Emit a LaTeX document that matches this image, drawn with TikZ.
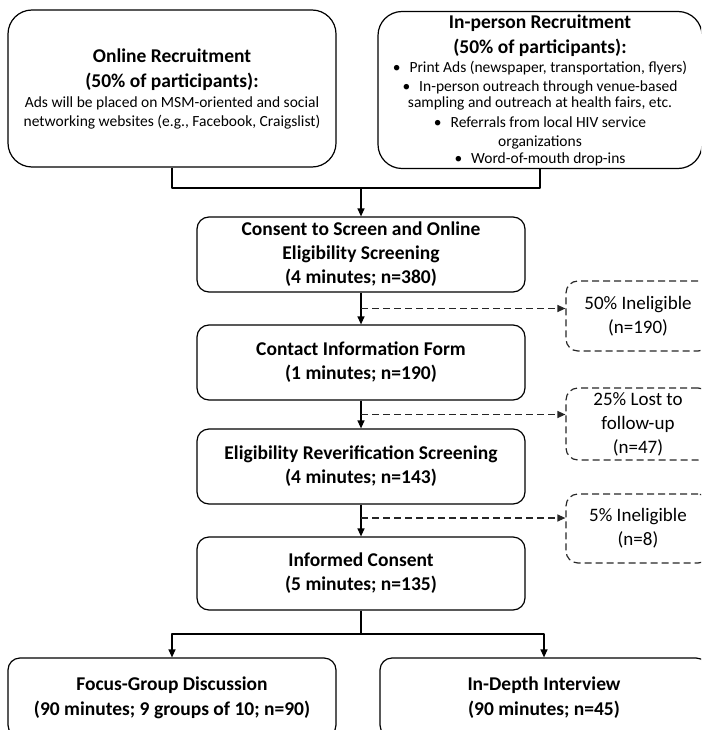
\documentclass[tikz,border=0pt]{standalone}
\usepackage{fontspec}
\setmainfont{Carlito}
\usetikzlibrary{arrows.meta}

\tikzset{
  recbox/.style={draw, line width=1.2pt, rounded corners=24pt, minimum width=328pt, minimum height=157pt, inner ysep=0pt, align=center, font=\fontsize{15.5}{19}\selectfont},
  stepbox/.style={draw, line width=1.2pt, rounded corners=12pt, minimum width=328pt, minimum height=75pt, align=center, font=\fontsize{19.5}{24}\selectfont\bfseries},
  dropbox/.style={draw=black!85, line width=1.2pt, dash pattern=on 7pt off 4pt, rounded corners=12pt, minimum width=144pt, minimum height=70pt, inner ysep=0pt, align=center, font=\fontsize{19}{24}\selectfont},
  flow/.style={->, line width=1.2pt},
  dropflow/.style={->, line width=1.2pt, draw=black!85, dash pattern=on 7pt off 4pt},
}
\newcommand{\ttl}[1]{{\fontsize{19.5}{24}\selectfont\bfseries #1}}

\begin{document}
\begin{tikzpicture}[x=1pt, y=-1pt, line cap=butt, line join=round, >={Triangle[length=8pt, width=7pt]}]
\useasboundingbox (0,0) rectangle (701,730);
\clip (0,0) rectangle (701,730);

% recruitment
\node[recbox] (online) at (172,88.5) {\ttl{Online Recruitment}\\[6pt]
  \ttl{(50\% of participants):}\\[1pt]
  Ads will be placed on MSM-oriented and social\\
  networking websites (e.g., Facebook, Craigslist)};

\node[recbox, minimum width=324pt] (inperson) at (540,90) {\ttl{In-person Recruitment}\\[6pt]
  \ttl{(50\% of participants):}\\[0pt]
  •\hspace{9pt}Print Ads (newspaper, transportation, flyers)\\
  •\hspace{9pt}In-person outreach through venue-based\\[-3pt]
  sampling and outreach at health fairs, etc.\\[1pt]
  •\hspace{9pt}Referrals from local HIV service\\[0pt]
  organizations\\[-2pt]
  •\hspace{9pt}Word-of-mouth drop-ins};

\coordinate (join) at (361,188);
\draw[line width=1.2pt] (online.south) |- (join);
\draw[line width=1.2pt] (inperson.south) |- (join);

%---------------------------------------------------------------------------------------------------
% main column
\node[stepbox] (screen) at (361,254.5) {Consent to Screen and Online\\ Eligibility Screening\\ (4 minutes; n=380)};
\node[stepbox] (contact) at (361,362.5) {Contact Information Form\\ (1 minutes; n=190)};
\node[stepbox] (reverify) at (361,466.5) {Eligibility Reverification Screening\\ (4 minutes; n=143)};
\node[stepbox, minimum height=73pt] (informed) at (361,573.5) {Informed Consent\\ (5 minutes; n=135)};

\draw[flow] (join) -- (screen.north);
\draw[flow] (screen) -- (contact);
\draw[flow] (contact) -- (reverify);
\draw[flow] (reverify) -- (informed);

%---------------------------------------------------------------------------------------------------
% drop-outs
\node[dropbox] (inelig) at (638,316) {50\% Ineligible\\ (n=190)};
\node[dropbox, minimum height=72pt] (lost) at (638,424) {25\% Lost to\\ follow-up\\ (n=47)};
\node[dropbox, minimum height=69pt] (inelig2) at (638,528.5) {5\% Ineligible\\ (n=8)};

\coordinate (out1) at (361,308.5);
\coordinate (out2) at (361,414.5);
\coordinate (out3) at (361,518);
\draw[dropflow] (out1) -- (out1 -| inelig.west);
\draw[dropflow] (out2) -- (out2 -| lost.west);
\draw[dropflow] (out3) -- (out3 -| inelig2.west);

%---------------------------------------------------------------------------------------------------
% interviews
\node[stepbox, minimum height=79pt, font=\fontsize{19.5}{25}\selectfont\bfseries] (focus) at (172,697.5) {Focus-Group Discussion\\ (90 minutes; 9 groups of 10; n=90)};
\node[stepbox, minimum height=79pt, font=\fontsize{19.5}{25}\selectfont\bfseries] (interview) at (544,697.5) {In-Depth Interview\\ (90 minutes; n=45)};

\coordinate (split) at (361,634);
\draw[line width=1.2pt] (informed.south) -- (split);
\draw[flow] (split) -| (focus.north);
\draw[flow] (split) -| (interview.north);

\end{tikzpicture}
\end{document}
